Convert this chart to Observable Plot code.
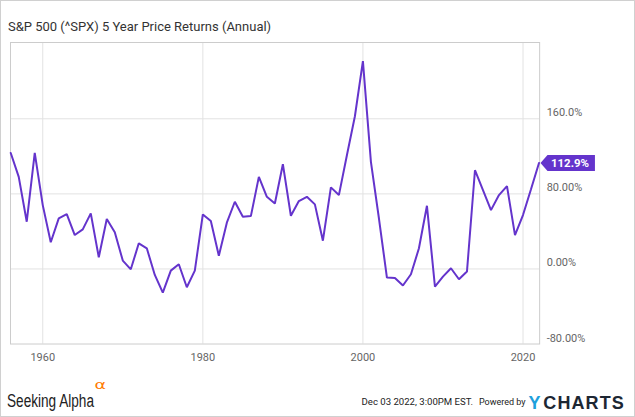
<!DOCTYPE html>
<html><head><meta charset="utf-8">
<script src="https://cdn.jsdelivr.net/npm/d3@7"></script>
<script src="https://cdn.jsdelivr.net/npm/@observablehq/plot@0.6"></script>
<style>
html,body{margin:0;padding:0;background:#fff;}
#wrap{position:relative;width:635px;height:417px;box-sizing:border-box;border:1px solid #d0d0d0;overflow:hidden;font-family:Roboto,sans-serif;background:#fff;}
#title{position:absolute;left:7px;top:17.5px;font-size:13px;line-height:16px;color:#333;white-space:nowrap;}
#chart{position:absolute;left:-1px;top:39px;}
#footer{position:absolute;left:-1px;top:375px;}
</style></head>
<body>
<div id="wrap">
  <div id="title">S&amp;P 500 (^SPX) 5 Year Price Returns (Annual)</div>
  <div id="chart"></div>
  <svg id="footer" width="635" height="41" xmlns="http://www.w3.org/2000/svg">
    <text x="7" y="31" font-family="Liberation Sans, Arial, sans-serif" font-size="18" fill="#222" textLength="87" lengthAdjust="spacingAndGlyphs">Seeking Alpha</text>
    <text transform="translate(94.5,13) scale(1.35,1)" x="0" y="0" font-family="DejaVu Sans, sans-serif" font-size="13" fill="#ff7a00">α</text>
    <text x="361.5" y="29" font-family="Roboto, sans-serif" font-size="9.6" fill="#222">Dec 03 2022, 3:00PM EST.</text>
    <text x="479" y="29" font-family="Roboto, sans-serif" font-size="9" fill="#222">Powered by</text>
    <text x="528.5" y="32.5" font-family="Liberation Sans, Arial, sans-serif" font-weight="bold" font-size="18" fill="#1ea0dc">Y</text>
    <text x="543.3" y="32.5" font-family="Liberation Sans, Arial, sans-serif" font-weight="bold" font-size="18" fill="#1d2733" letter-spacing="1.1">CHARTS</text>
  </svg>
</div>
<script>
const years = [1956,1957,1958,1959,1960,1961,1962,1963,1964,1965,
  1966,1967,1968,1969,1970,1971,1972,1973,1974,1975,
  1976,1977,1978,1979,1980,1981,1982,1983,1984,1985,
  1986,1987,1988,1989,1990,1991,1992,1993,1994,1995,
  1996,1997,1998,1999,2000,2001,2002,2003,2004,2005,
  2006,2007,2008,2009,2010,2011,2012,2013,2014,2015,
  2016,2017,2018,2019,2020,2021,2022];
const returns = [123.6,98.1,50.3,123.6,68.0,28.4,53.9,58.5,36.1,42.2,
  59.2,12.4,53.2,39.0,8.9,-0.4,27.3,22.0,-6.4,-25.2,
  -1.8,5.0,-19.5,-1.8,58.1,51.0,14.1,49.3,71.6,55.6,
  56.3,98.1,76.9,69.8,111.6,56.7,72.3,76.9,68.8,30.1,
  86.9,78.7,121.2,162.7,221.5,114.1,54.0,-9.2,-9.6,-17.7,
  -5.7,22.0,67.3,-18.8,-8.2,0.7,-11.0,-2.8,105.2,84.0,
  62.7,78.7,88.2,36.1,57.4,85.0,112.9];
const xTicks = [1960,1980,2000,2020];
const xTickLabels = ["1960","1980","2000","2020"];
const yTicks = [-80,0,80,160];
const yTickLabels = ["-80.00%","0.00%","80.00%","160.0%"];
const lastLabel = ["112.9%"];

const purple = "#6434cc";
const data = years.map((year, i) => ({year, value: returns[i]}));
const last = [data[data.length - 1]];

const tagSymbol = {
  draw(ctx) {
    ctx.moveTo(1.5, 0);
    ctx.lineTo(8.5, -8);
    ctx.lineTo(56, -8);
    ctx.lineTo(56, 8);
    ctx.lineTo(8.5, 8);
    ctx.closePath();
  }
};

const chart = Plot.plot({
  width: 635,
  height: 330,
  marginLeft: 10,
  marginRight: 95,
  marginTop: 2,
  marginBottom: 26,
  style: {fontFamily: "Roboto, sans-serif", fontSize: "11px", color: "#666", background: "transparent", overflow: "visible"},
  x: {type: "linear", domain: [1955.97, 2022.08]},
  y: {type: "linear", domain: [-80, 241.3]},
  marks: [
    Plot.ruleY(yTicks.slice(1), {stroke: "#e2e2e2", strokeWidth: 1}),
    Plot.ruleX(xTicks, {stroke: "#e2e2e2", strokeWidth: 1}),
    Plot.frame({stroke: "#cccccc"}),
    Plot.axisX({ticks: xTicks, tickSize: 0, tickPadding: 9, tickFormat: d => xTickLabels[xTicks.indexOf(d)], label: null, fill: "#666"}),
    Plot.axisY({anchor: "right", ticks: yTicks, tickSize: 0, tickPadding: 7, textAnchor: "start", dy: -6, tickFormat: d => yTickLabels[yTicks.indexOf(d)], label: null, fill: "#666"}),
    Plot.line(data, {x: "year", y: "value", stroke: purple, strokeWidth: 2, strokeLinejoin: "miter"}),
    Plot.dot(last, {x: "year", y: "value", symbol: tagSymbol, r: 10, fill: purple, stroke: "none"}),
    Plot.text(last, {x: "year", y: "value", text: (d, i) => lastLabel[0], dx: 31, fill: "white", fontWeight: "bold", fontSize: 11.5, letterSpacing: "0.4px", textAnchor: "middle"})
  ]
});
document.getElementById("chart").appendChild(chart);
</script>
</body></html>
